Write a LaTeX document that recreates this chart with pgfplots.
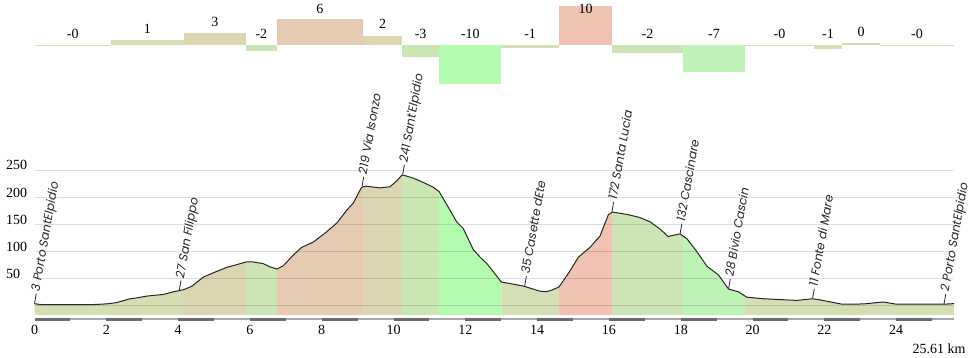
\documentclass[border=0pt]{standalone}
\usepackage{fontspec}
\setmainfont{Liberation Serif}
\newfontfamily\lblfont[FakeSlant=0.15]{Poppins}
\usepackage{pgfplots}
\usepackage{pgfplotstable}
\pgfplotsset{compat=1.18}

\definecolor{cA}{HTML}{D4E0B3}
\definecolor{cB}{HTML}{D6DDB2}
\definecolor{cC}{HTML}{DBD6B1}
\definecolor{cD}{HTML}{CDE5B4}
\definecolor{cE}{HTML}{E5CAB2}
\definecolor{cF}{HTML}{C9E6B3}
\definecolor{cG}{HTML}{B4FBB0}
\definecolor{cH}{HTML}{D2E0B3}
\definecolor{cI}{HTML}{F0C2B2}
\definecolor{cJ}{HTML}{BDF3B5}
\definecolor{bardark}{HTML}{6B6B6B}
\definecolor{barlight}{HTML}{A8A8A8}

\pgfplotstableread{
km elev
0 3
0.15 1.5
0.3 1
1.0 1
1.64 1.3
2.0 2.5
2.13 3.5
2.29 5
2.66 12
2.85 13.6
3.13 17
3.59 20
3.87 25
4.03 27
4.16 29
4.38 35
4.70 52
4.98 60
5.35 70
5.63 75
5.89 80
6.09 80
6.37 77
6.56 71
6.75 67
6.93 73
7.21 93
7.44 107
7.77 117
8.14 136
8.42 152
8.70 176
8.88 189
9.10 217
9.15 219
9.25 220
9.62 217
9.90 219
10.09 230
10.24 241
10.30 240
10.55 235
10.83 227
11.11 218
11.27 210
11.57 176
11.76 154
11.94 142
12.22 103
12.41 89
12.60 77
12.78 62
13.0 43
13.34 39
13.65 35
13.69 34
14.08 26
14.25 25
14.41 28
14.61 34
14.87 59
15.15 89
15.47 107
15.75 128
15.98 167
16.09 172
16.12 172
16.50 168
16.87 162
17.15 154
17.42 141
17.65 127
17.84 130
17.98 132
18.06 128
18.17 123
18.45 99
18.73 72
19.05 56
19.33 30
19.60 25
19.79 17
19.84 15
20.30 12
21.23 9
21.67 12
21.71 11.6
21.87 10
22.49 2
23.09 2.4
23.55 5.5
23.65 6
24.0 2
25.33 2
25.61 3
}\profile

\pgfplotstableread[col sep=comma]{
x,y,lab
0,3,3 Porto SantElpidio
4.03,27,27 San Filippo
9.12,219,219 Via Isonzo
10.25,241,241 Sant'Elpidio
13.65,35,35 Casette dEte
16.08,172,172 Santa Lucia
17.98,132,132 Cascinare
19.33,30,28 Bivio Cascin
21.67,12,11 Fonte di Mare
25.33,2,2 Porto SantElpidio
}\places

\pgfplotstableread{
x y lab
1.065 0 -0
3.145 1.28 1
5.025 3.07 3
6.32 0 -2
7.95 6.28 6
9.695 2.4 2
10.755 0 -3
12.135 0 -10
13.805 0 -1
15.35 6.28 10
17.075 0 -2
18.925 0 -7
20.75 0 -0
22.1 0 -1
23.02 0.43 0
24.58 0 -0
}\gradlabels

\pgfplotsset{every tick label/.append style={font=\fontsize{10.5}{12}\selectfont}}
\newcommand{\seg}[3]{\addplot[fill=#1, draw=none, restrict x to domain=#2:#3] table[x=km, y=elev] {\profile} \closedcycle;}
\newcommand{\gbar}[4]{\addplot[fill=#1, draw=none] coordinates {(#2,0) (#2,#4) (#3,#4) (#3,0)} -- cycle;}

\begin{document}
\begin{tikzpicture}
\useasboundingbox (0,0) rectangle (729.75pt,267.75pt);

% gradient bars
\begin{axis}[at={(25.875pt,200.25pt)}, anchor=south west, scale only axis,
  width=689.625pt, height=67.5pt, xmin=0, xmax=25.61, ymin=-11.54, ymax=11.54,
  hide axis, clip=false]
\gbar{cA}{0}{2.13}{-0.15}
\gbar{cB}{2.13}{4.16}{1.28}
\gbar{cC}{4.16}{5.89}{3.07}
\gbar{cD}{5.89}{6.75}{-1.6}
\gbar{cE}{6.75}{9.15}{6.6}
\gbar{cC}{9.15}{10.24}{2.4}
\gbar{cF}{10.24}{11.27}{-3.1}
\gbar{cG}{11.27}{13.0}{-10}
\gbar{cH}{13.0}{14.61}{-0.85}
\gbar{cI}{14.61}{16.09}{10}
\gbar{cD}{16.09}{18.06}{-1.97}
\gbar{cJ}{18.06}{19.79}{-6.9}
\gbar{cA}{19.79}{21.71}{-0.25}
\gbar{cH}{21.71}{22.49}{-0.95}
\gbar{cB}{22.49}{23.55}{0.43}
\gbar{cA}{23.55}{25.61}{-0.15}
\addplot[only marks, mark=none, nodes near coords, point meta=explicit symbolic,
  nodes near coords style={anchor=center, yshift=8.6pt, font=\fontsize{10.5}{12}\selectfont}]
  table[x=x, y=y, meta=lab] {\gradlabels};
\end{axis}

% elevation profile (data shifted by +18 m so that the axis bottom is y=0)
\begin{axis}[at={(25.875pt,31.5pt)}, anchor=south west, scale only axis,
  width=689.625pt, height=108.75pt, xmin=0, xmax=25.61, ymin=0, ymax=268,
  y filter/.expression={y+18},
  axis line style={draw=none}, major tick length=0pt, tick style={draw=none},
  xtick pos=bottom, ytick pos=left,
  xtick={0,2,...,24}, ytick={18,68,118,168,218,268}, yticklabels={,50,100,150,200,250},
  ymajorgrids, grid style={black, opacity=0.13, line width=0.75pt},
  axis on top, clip=false,
  /pgf/number format/assume math mode=true,
  xticklabel style={yshift=-4.3pt},
  yticklabel style={anchor=base west, inner sep=0pt, xshift=-21.4pt},
]
\seg{cA}{-0.001}{2.131}
\seg{cB}{2.129}{4.161}
\seg{cC}{4.159}{5.891}
\seg{cD}{5.889}{6.751}
\seg{cE}{6.749}{9.151}
\seg{cC}{9.149}{10.241}
\seg{cF}{10.239}{11.271}
\seg{cG}{11.269}{13.001}
\seg{cH}{12.999}{14.611}
\seg{cI}{14.609}{16.091}
\seg{cD}{16.089}{18.061}
\seg{cJ}{18.059}{19.791}
\seg{cA}{19.789}{21.711}
\seg{cH}{21.709}{22.491}
\seg{cB}{22.489}{23.551}
\seg{cA}{23.549}{25.62}
\addplot[black!85, line width=0.75pt] table[x=km, y=elev] {\profile};

% place labels
\addplot[only marks, mark=none, nodes near coords={\rule[1.7pt]{7.5pt}{0.6pt}\,\pgfplotspointmeta\strut},
  point meta=explicit symbolic,
  nodes near coords style={rotate=80, anchor=west, inner sep=0pt,
    font=\lblfont\fontsize{9}{10}\selectfont, black!85}]
  table[x=x, y=y, meta=lab] {\places};

% distance bar
\addplot[barlight, line width=2.25pt] coordinates {(0,-27.2) (25.61,-27.2)};
\addplot[white, line width=0.6pt] coordinates {(0,-27.2) (25.61,-27.2)};
\addplot[bardark, line width=2.25pt, unbounded coords=jump] coordinates {
 (0,-27.2) (1,-27.2) (1.5,nan) (2,-27.2) (3,-27.2) (3.5,nan) (4,-27.2) (5,-27.2) (5.5,nan)
 (6,-27.2) (7,-27.2) (7.5,nan) (8,-27.2) (9,-27.2) (9.5,nan) (10,-27.2) (11,-27.2) (11.5,nan)
 (12,-27.2) (13,-27.2) (13.5,nan) (14,-27.2) (15,-27.2) (15.5,nan) (16,-27.2) (17,-27.2) (17.5,nan)
 (18,-27.2) (19,-27.2) (19.5,nan) (20,-27.2) (21,-27.2) (21.5,nan) (22,-27.2) (23,-27.2) (23.5,nan)
 (24,-27.2) (25,-27.2)};
\node[anchor=base east, inner sep=0pt, font=\fontsize{10.5}{12}\selectfont]
  at (rel axis cs:1,0) [xshift=8.8pt, yshift=-28.5pt] {25.61 km};
\end{axis}
\end{tikzpicture}
\end{document}
